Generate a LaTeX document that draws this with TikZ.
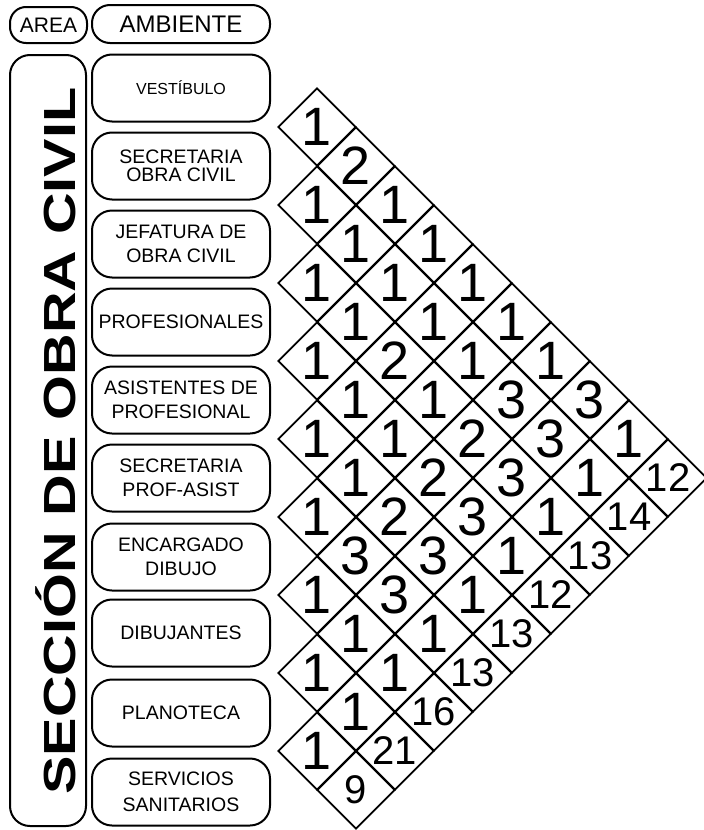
\documentclass[tikz,border=0pt]{standalone}
\usepackage{fontspec}
\setmainfont{Liberation Sans}
\usepackage{graphicx}
\usetikzlibrary{shapes.geometric}

\begin{document}
\begin{tikzpicture}[x=1pt, y=-1pt,
    every node/.style={font=\fontsize{19.5}{24}\selectfont},
    pill/.style={draw, line width=2pt, rounded corners=16pt, inner sep=0pt},
    ambbox/.style={pill, rounded corners=20pt, minimum width=178pt, minimum height=67pt, align=center},
    cell/.style={diamond, aspect=1, draw, line width=1.8pt, inner sep=0pt, minimum width=78pt, minimum height=78pt},
    digit/.style={inner sep=0pt, font=\fontsize{54}{54}\selectfont},
    totdigit/.style={inner sep=0pt, font=\fontsize{40}{40}\selectfont},
]
\useasboundingbox (0,0) rectangle (704,830);
% headers
\node[pill, minimum width=77pt, minimum height=36pt, font=\fontsize{21}{21}\selectfont] (hdrarea) at (48.5,25) {AREA};
\node[pill, rounded corners=18pt, minimum width=178pt, minimum height=38pt, font=\fontsize{24}{24}\selectfont] (hdrambiente) at (181,24) {AMBIENTE};
% area column
\node[pill, rounded corners=20pt, minimum width=76pt, minimum height=771pt] (area) at (48,440.5) {};
\node[rotate=90, anchor=base, inner sep=0pt, font=\bfseries\fontsize{45}{45}\selectfont] (areatitle) at (75,441) {\scalebox{1.28}[1]{SECCIÓN DE OBRA CIVIL}};
% ambientes
\node[ambbox, font=\fontsize{16}{20}\selectfont] (amb1) at (181,88) {VESTÍBULO};
\node[ambbox, font=\fontsize{19.5}{18}\selectfont] (amb2) at (181,166) {SECRETARIA\\OBRA CIVIL};
\node[ambbox] (amb3) at (181,244) {JEFATURA DE\\OBRA CIVIL};
\node[ambbox] (amb4) at (181,322) {PROFESIONALES};
\node[ambbox] (amb5) at (181,400) {ASISTENTES DE\\PROFESIONAL};
\node[ambbox] (amb6) at (181,478) {SECRETARIA\\PROF-ASIST};
\node[ambbox] (amb7) at (181,557) {ENCARGADO\\DIBUJO};
\node[ambbox] (amb8) at (181,633) {DIBUJANTES};
\node[ambbox] (amb9) at (181,713) {PLANOTECA};
\node[ambbox, font=\fontsize{19.5}{26}\selectfont] (amb10) at (181,792) {SERVICIOS\\SANITARIOS};
% relation matrix
\foreach \i/\j/\v in {
    1/2/1, 1/3/2, 1/4/1, 1/5/1, 1/6/1, 1/7/1, 1/8/1, 1/9/3, 1/10/1,
    2/3/1, 2/4/1, 2/5/1, 2/6/1, 2/7/1, 2/8/3, 2/9/3, 2/10/1,
    3/4/1, 3/5/1, 3/6/2, 3/7/1, 3/8/2, 3/9/3, 3/10/1,
    4/5/1, 4/6/1, 4/7/1, 4/8/2, 4/9/3, 4/10/1,
    5/6/1, 5/7/1, 5/8/2, 5/9/3, 5/10/1,
    6/7/1, 6/8/3, 6/9/3, 6/10/1,
    7/8/1, 7/9/1, 7/10/1,
    8/9/1, 8/10/1,
    9/10/1} {
    \node[cell] (c-\i-\j) at ({278+39*(\j-\i)}, {88+39*(\i+\j-2)}) {};
    \node[digit] at (c-\i-\j) {\v};
}
% totals
\foreach \i/\v in {1/12, 2/14, 3/13, 4/12, 5/13, 6/13, 7/16, 8/21, 9/9} {
    \node[cell] (t-\i) at ({278+39*(11-\i)}, {88+39*(\i+9)}) {};
    \node[totdigit] at (t-\i) {\v};
}
\end{tikzpicture}
\end{document}
